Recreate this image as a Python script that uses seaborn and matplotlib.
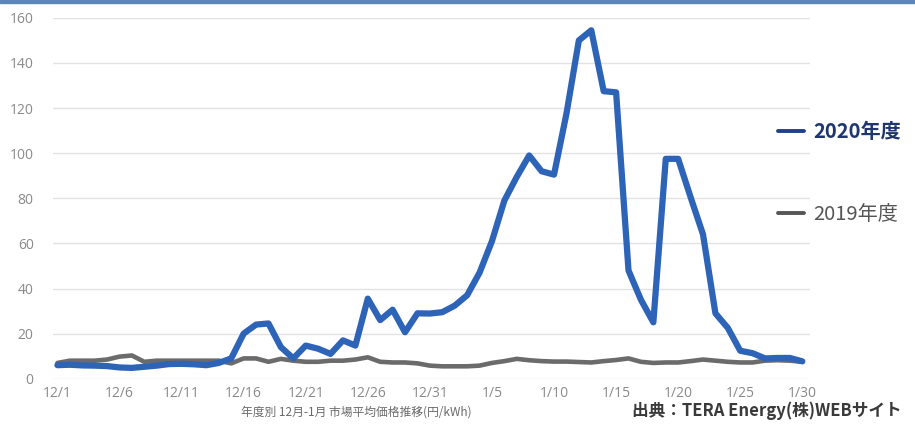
import numpy as np
import pandas as pd
import seaborn as sns
import matplotlib.pyplot as plt
from matplotlib.lines import Line2D
from matplotlib.patches import Rectangle

# day index 0 = 12/1 ... 60 = 1/30
days = list(range(61))
tick_days = [0, 5, 10, 15, 20, 25, 30, 35, 40, 45, 50, 55, 60]
tick_labels = ["12/1", "12/6", "12/11", "12/16", "12/21", "12/26", "12/31",
               "1/5", "1/10", "1/15", "1/20", "1/25", "1/30"]

# 2020年度 (円/kWh)
price_2020 = [6.0, 6.2, 5.9, 5.8, 5.6, 5.0, 4.8, 5.3, 5.8, 6.5,
              6.6, 6.4, 6.0, 7.0, 9.0, 20.0, 24.0, 24.5, 14.0, 9.0,
              14.7, 13.3, 11.0, 17.0, 14.7, 35.5, 26.0, 30.6, 20.6, 29.0,
              28.9, 29.5, 32.4, 37.0, 47.0, 61.0, 79.0, 89.5, 99.0, 92.0,
              90.5, 117.5, 150.0, 154.5, 127.5, 127.0, 48.0, 35.0, 25.0, 97.5,
              97.5, 80.5, 64.0, 29.0, 22.5, 12.4, 11.3, 9.0, 9.2, 9.2,
              7.7]

# 2019年度 (円/kWh)
price_2019 = [7.0, 8.0, 8.0, 8.0, 8.5, 9.8, 10.3, 7.5, 8.0, 8.0,
              8.0, 8.0, 8.0, 8.0, 6.8, 9.0, 9.0, 7.5, 8.8, 8.0,
              7.5, 7.5, 8.0, 8.0, 8.5, 9.5, 7.5, 7.2, 7.2, 6.8,
              5.8, 5.5, 5.5, 5.5, 5.8, 7.0, 7.8, 8.8, 8.2, 7.8,
              7.6, 7.6, 7.4, 7.2, 7.8, 8.3, 9.0, 7.5, 7.0, 7.2,
              7.2, 7.8, 8.5, 8.0, 7.5, 7.2, 7.2, 8.0, 8.2, 8.0,
              7.5]

df = pd.DataFrame({"day": days, "2020年度": price_2020, "2019年度": price_2019})

sns.set_theme(style="whitegrid")
plt.rcParams['font.family'] = ['Noto Sans CJK JP', 'DejaVu Sans']

fig = plt.figure(figsize=(9.15, 4.26), dpi=100)
ax = fig.add_axes([0.058, 0.111, 0.827, 0.847])

sns.lineplot(data=df, x="day", y="2019年度", ax=ax, color="#6b6b6b", linewidth=3.3)
sns.lineplot(data=df, x="day", y="2020年度", ax=ax, color="#2d64b8", linewidth=4.5)

ax.set_xlim(-0.35, 60.6)
ax.set_ylim(0, 160)
ax.set_yticks(range(0, 161, 20))
ax.set_xticks(tick_days)
ax.set_xticklabels(tick_labels)
ax.set_xlabel("")
ax.set_ylabel("")
ax.grid(axis="x", visible=False)
ax.grid(axis="y", color="#e2e2e2", linewidth=1.0)
for s in ax.spines.values():
    s.set_visible(False)
ax.tick_params(axis="both", length=0, labelsize=10, labelcolor="#8a8a8a")
ax.tick_params(axis="y", pad=14)
ax.tick_params(axis="x", pad=5)
for lab in ax.get_xticklabels() + ax.get_yticklabels():
    lab.set_family(["Open Sans", "DejaVu Sans"])

handles = [Line2D([], [], color="#1f3f8f", linewidth=2.8),
           Line2D([], [], color="#555555", linewidth=2.8)]
leg = fig.legend(handles, ["2020年度", "2019年度"], loc="upper left",
                 bbox_to_anchor=(0.850, 0.716), frameon=False, fontsize=14.5,
                 handlelength=1.3, handletextpad=0.45, labelspacing=3.1,
                 borderpad=0, borderaxespad=0)
leg.get_texts()[0].set_color("#1f3570")
leg.get_texts()[0].set_fontweight("bold")
leg.get_texts()[1].set_color("#555555")

fig.text(0.263, 0.033, "年度別 12月-1月 市場平均価格推移(円/kWh)", fontsize=8.5,
         color="#6a6a6a", va="center", ha="left")
fig.text(0.691, 0.036, "出典：TERA Energy(株)WEBサイト", fontsize=12,
         color="#3a3a3a", va="center", ha="left", fontweight="bold")

fig.add_artist(Rectangle((0, 0.993), 1, 0.007, transform=fig.transFigure,
                         color="#5b87b8", zorder=5))

fig.savefig("out.png", dpi=100, facecolor="white")
